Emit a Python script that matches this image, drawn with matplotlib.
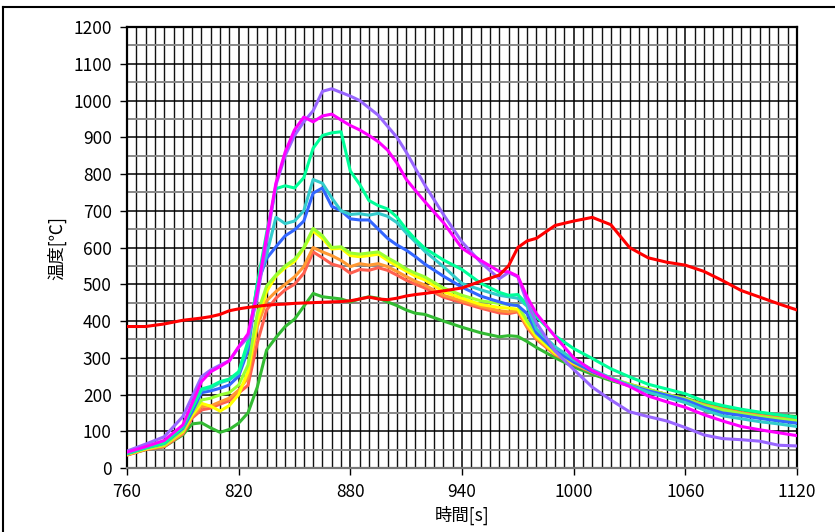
import matplotlib
matplotlib.use('Agg')
import matplotlib.pyplot as plt
from matplotlib.ticker import MultipleLocator, FixedLocator
from matplotlib.lines import Line2D

plt.rcParams['font.family'] = ['Noto Sans CJK JP', 'DejaVu Sans']

# time axis [s]
time = [760, 770, 780, 790, 795, 800, 805, 810, 815, 820, 825, 830, 835, 840,
        845, 850, 855, 860, 865, 870, 875, 880, 885, 890, 895, 900, 905, 910,
        915, 920, 930, 940, 950, 960, 965, 970, 975, 980, 990, 1000, 1010,
        1020, 1030, 1040, 1050, 1060, 1070, 1080, 1090, 1100, 1110, 1120]
x_ticks = [760, 820, 880, 940, 1000, 1060, 1120]

# temperatures [C] per thermocouple
magenta = [43, 58, 75, 117, 176, 235, 262, 276, 292, 330, 365, 480, 630, 775,
           860, 920, 955, 942, 958, 963, 947, 932, 920, 905, 888, 865, 830, 786,
           755, 725, 668, 598, 565, 535, 534, 522, 465, 420, 358, 300, 265,
           242, 222, 196, 180, 165, 145, 128, 113, 104, 96, 88]
purple = [46, 65, 85, 140, 194, 248, 267, 280, 292, 328, 355, 465, 615, 770,
          850, 905, 942, 972, 1025, 1032, 1022, 1012, 1000, 980, 960, 930, 900,
          860, 815, 770, 690, 615, 560, 515, 532, 520, 450, 395, 318, 268, 220,
          185, 153, 140, 128, 110, 90, 80, 77, 73, 62, 60]
springgreen = [40, 55, 68, 112, 165, 215, 222, 235, 242, 262, 345, 500, 640,
               760, 768, 762, 790, 870, 905, 912, 915, 808, 772, 728, 714, 705,
               683, 650, 622, 598, 566, 540, 503, 478, 470, 472, 445, 412, 360,
               325, 298, 270, 248, 228, 215, 202, 182, 170, 160, 152, 145, 137]
teal = [40, 56, 68, 112, 163, 212, 218, 232, 240, 258, 335, 500, 580, 682,
        665, 672, 700, 785, 775, 735, 700, 690, 692, 688, 693, 685, 668, 640,
        615, 590, 548, 502, 485, 470, 466, 462, 440, 378, 330, 295, 268, 245,
        225, 206, 192, 178, 158, 142, 134, 126, 120, 113]
blue = [39, 55, 67, 108, 153, 205, 210, 217, 226, 250, 320, 500, 570, 602,
        632, 648, 672, 748, 762, 712, 700, 678, 675, 675, 650, 625, 607, 593,
        575, 555, 522, 492, 468, 452, 445, 442, 420, 368, 320, 288, 262, 242,
        225, 210, 198, 185, 165, 150, 143, 135, 128, 122]
yellowgreen = [38, 53, 63, 102, 150, 185, 190, 199, 205, 226, 280, 420, 495,
               525, 550, 568, 600, 652, 632, 600, 602, 585, 582, 585, 588, 572,
               558, 542, 530, 520, 490, 470, 455, 448, 445, 443, 400, 365, 318,
               290, 265, 245, 228, 214, 200, 188, 170, 158, 148, 140, 134, 128]
yellow = [37, 52, 62, 99, 144, 176, 168, 155, 170, 200, 262, 400, 480, 522,
          545, 562, 598, 645, 625, 596, 598, 578, 575, 578, 582, 565, 550, 536,
          522, 512, 480, 462, 445, 437, 435, 432, 392, 358, 312, 285, 262, 242,
          226, 212, 198, 186, 168, 156, 146, 138, 132, 126]
orange = [36, 51, 60, 95, 140, 167, 169, 180, 190, 212, 245, 385, 455, 480,
          500, 520, 548, 600, 588, 578, 565, 548, 556, 552, 556, 548, 535, 521,
          508, 498, 470, 455, 440, 428, 425, 428, 385, 352, 310, 283, 262, 243,
          228, 214, 200, 188, 172, 160, 150, 142, 136, 131]
salmon = [35, 50, 58, 93, 136, 158, 163, 174, 183, 204, 225, 340, 430, 462,
          485, 500, 530, 588, 572, 555, 548, 530, 540, 538, 545, 538, 525, 511,
          500, 490, 465, 450, 435, 422, 420, 425, 382, 350, 308, 282, 260, 242,
          227, 213, 200, 188, 172, 160, 150, 143, 137, 132]
green = [36, 50, 58, 90, 120, 123, 109, 97, 105, 122, 150, 220, 321, 355,
         385, 405, 440, 475, 466, 463, 460, 452, 460, 466, 462, 452, 442, 430,
         421, 418, 400, 383, 368, 357, 360, 358, 344, 328, 300, 275, 255, 238,
         224, 212, 200, 190, 175, 165, 158, 150, 144, 140]
red = [385, 385, 392, 402, 405, 408, 412, 418, 428, 433, 437, 440, 443, 445,
       446, 448, 449, 450, 451, 452, 453, 455, 460, 465, 460, 458, 462, 468,
       472, 475, 482, 490, 508, 525, 550, 600, 618, 625, 660, 672, 682, 662,
       600, 572, 560, 552, 535, 510, 483, 465, 447, 430]

series = [
    (green, '#33bb33'),
    (salmon, '#ff5f50'),
    (orange, '#ff9933'),
    (yellow, '#ffff00'),
    (yellowgreen, '#99ff33'),
    (blue, '#3366ff'),
    (teal, '#33cccc'),
    (springgreen, '#00ff99'),
    (purple, '#9966ff'),
    (magenta, '#ff00ff'),
    (red, '#ff0000'),
]

fig = plt.figure(figsize=(8.35, 5.32), dpi=100)
ax = fig.add_axes([0.1521, 0.1203, 0.8024, 0.8289])

for vals, col in series:
    ax.plot(time, vals, color=col, lw=2.2, zorder=3)

ax.set_xlim(760, 1120)
ax.set_ylim(0, 1200)
ax.xaxis.set_major_locator(FixedLocator(x_ticks))
ax.xaxis.set_minor_locator(MultipleLocator(5))
ax.yaxis.set_major_locator(MultipleLocator(100))
ax.yaxis.set_minor_locator(MultipleLocator(50))

ax.grid(which='major', axis='both', color='black', lw=1.1, zorder=1)
ax.grid(which='minor', axis='x', color='#111111', lw=1.0, zorder=1)
ax.grid(which='minor', axis='y', color='#888888', lw=1.4, zorder=1)

ax.tick_params(which='major', direction='out', length=5, width=1,
               labelsize=12.5, colors='black', pad=6)
ax.tick_params(axis='x', which='minor', length=0)
ax.tick_params(axis='y', which='minor', length=0)
for s in ax.spines.values():
    s.set_linewidth(1.6)
    s.set_color('black')
ax.spines['bottom'].set_color('#777777')

ax.set_xlabel('時間[s]', fontsize=12.5, labelpad=3)
ax.set_ylabel('温度[℃]', fontsize=12.5, labelpad=5)

# chart area frame (top and left edges visible)
fig.add_artist(Line2D([3 / 835, 1], [1 - 7 / 532, 1 - 7 / 532],
                      transform=fig.transFigure, color='black', lw=1.5))
fig.add_artist(Line2D([3 / 835, 3 / 835], [0, 1 - 7 / 532],
                      transform=fig.transFigure, color='black', lw=1.5))

fig.savefig('out.png', dpi=100)
